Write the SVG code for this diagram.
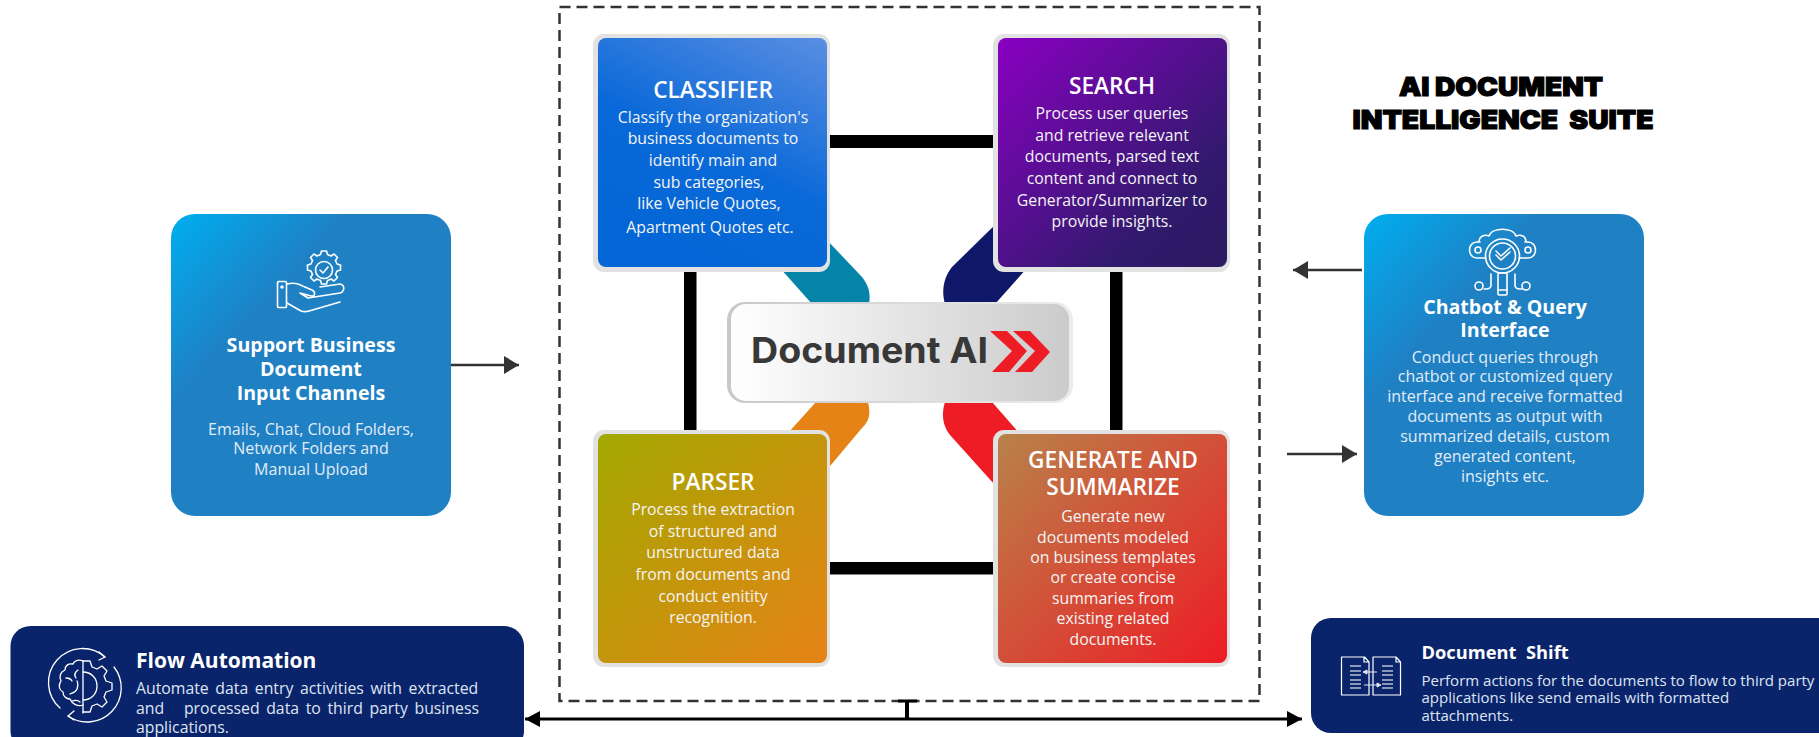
<svg xmlns="http://www.w3.org/2000/svg" width="1819" height="737" viewBox="0 0 1819 737">
<style>
text{font-family:"Open Sans","Noto Sans",sans-serif;fill:#fff}
.c{text-anchor:middle}
.h{font-weight:600;font-size:22.700px}
.b{font-size:15.800px;fill:#f4f4f4}
.sh{font-weight:700;font-size:19.600px}
.sb{font-size:16px;fill:#e3ecf6}
.fb{font-size:15.800px;fill:#dfe4f2;word-spacing:2.500px}
.ds{font-size:15px;fill:#dfe4f2}
.t{font-family:Inter,"Liberation Sans",sans-serif;font-weight:900;font-size:26px;fill:#000;stroke:#000;stroke-width:1.100;text-anchor:middle}
.ic{fill:none;stroke:#fff;stroke-width:1.600;stroke-linecap:round;stroke-linejoin:round}
.card{fill:#e2e2e2}
.bar{fill:#000}
.ar{fill:none;stroke:#333;stroke-width:2.500}
.bl{fill:none;stroke:#000;stroke-width:3}
</style>
<defs>
<linearGradient id="gc" x1="1" y1="0" x2=".5" y2="1"><stop offset="0" stop-color="#5a8ee2"/><stop offset=".6" stop-color="#0a69d8"/><stop offset="1" stop-color="#0466d6"/></linearGradient>
<linearGradient id="gs" x1="0" y1="0" x2="1" y2="1"><stop offset="0" stop-color="#8a00c2"/><stop offset=".75" stop-color="#301a6c"/><stop offset="1" stop-color="#2c1a62"/></linearGradient>
<linearGradient id="gp" x1="0" y1="0" x2="1" y2="1"><stop offset="0" stop-color="#a2a800"/><stop offset="1" stop-color="#e68316"/></linearGradient>
<linearGradient id="gg" x1="0" y1="0" x2="1" y2="1"><stop offset="0" stop-color="#b8824a"/><stop offset="1" stop-color="#ee1c25"/></linearGradient>
<linearGradient id="gb" x1="0" y1="0" x2="1" y2="1"><stop offset="0" stop-color="#00aeef"/><stop offset=".32" stop-color="#1f80c4"/><stop offset="1" stop-color="#1f80c4"/></linearGradient>
<linearGradient id="gm" x1="0" y1="0" x2="1" y2="0"><stop offset="0" stop-color="#fff"/><stop offset="1" stop-color="#cbcbcb"/></linearGradient>
<linearGradient id="gf" x1="0" y1="0" x2="1" y2="0"><stop offset="0" stop-color="#c8c8c8"/><stop offset="1" stop-color="#ececec"/></linearGradient>
<marker id="ah" markerUnits="userSpaceOnUse" markerWidth="16" markerHeight="20" refX="15" refY="9" orient="auto"><path d="M0 0L15 9L0 18Z" fill="#333"/></marker>
<marker id="ak" markerUnits="userSpaceOnUse" markerWidth="16" markerHeight="20" refX="15" refY="8" orient="auto-start-reverse"><path d="M0 0L15 8L0 16Z" fill="#000"/></marker>
</defs>

<g id="connectors">
<rect x="559.500" y="7" width="700" height="694" fill="none" stroke="#333" stroke-width="2.500" stroke-dasharray="11 6"/>
<rect class="bar" x="828" y="135" width="167" height="13"/>
<rect class="bar" x="828" y="562" width="167" height="12.500"/>
<rect class="bar" x="684" y="270" width="12.500" height="162"/>
<rect class="bar" x="1110" y="270" width="12.500" height="162"/>
<path d="M780 268L812 304H869C871 292 868 285 862 277L825 238Z" fill="#0484a8"/>
<path d="M1027 268L995 304H945C941 290 944 277 952 267L1000 220Z" fill="#0f1769"/>
<path d="M788 433L816 402H868C871 415 869 421 862 428L820 478Z" fill="#e68316"/>
<path d="M1019 433L992 402H945C941 415 943 426 950 435L1003 494Z" fill="#ee1c25"/>
<path class="ar" d="M451 365H519" marker-end="url(#ah)"/>
<path class="ar" d="M1362 270H1293" marker-end="url(#ah)"/>
<path class="ar" d="M1287 454H1357" marker-end="url(#ah)"/>
<path class="bl" d="M525 719H1302" marker-start="url(#ak)" marker-end="url(#ak)"/>
<path d="M907 701V719" fill="none" stroke="#000" stroke-width="4"/>
<path d="M898 701H917" fill="none" stroke="#000" stroke-width="3"/>
</g>

<g id="center">
<rect x="727" y="302" width="346" height="101" rx="18" fill="url(#gf)"/>
<rect x="731" y="304" width="338" height="97" rx="15" fill="url(#gm)"/>
<text x="751" y="363" font-size="36" font-weight="700" style="font-family:Inter,sans-serif;fill:#383838" textLength="237" lengthAdjust="spacingAndGlyphs">Document AI</text>
<path d="M990 331H1007L1027 351L1009 372H992L1012 351Z M1013 331H1030L1050 352L1032 372H1015L1035 351Z" fill="#ee1c25"/>
</g>

<g id="classifier">
<rect class="card" x="593" y="34" width="237" height="238" rx="11"/>
<rect x="598" y="38" width="229" height="229" rx="8" fill="url(#gc)"/>
<text class="c h" x="713" y="98">CLASSIFIER</text>
<text class="c b" x="713" y="123">Classify the organization's</text>
<text class="c b" x="713" y="144">business documents to</text>
<text class="c b" x="713" y="166">identify main and</text>
<text class="c b" x="709" y="188">sub categories,</text>
<text class="c b" x="709" y="209">like Vehicle Quotes,</text>
<text class="c b" x="710" y="233">Apartment Quotes etc.</text>
</g>

<g id="search">
<rect class="card" x="993" y="34" width="237" height="238" rx="11"/>
<rect x="998" y="38" width="229" height="229" rx="8" fill="url(#gs)"/>
<text class="c h" x="1112" y="94">SEARCH</text>
<text class="c b" x="1112" y="119">Process user queries</text>
<text class="c b" x="1112" y="141">and retrieve relevant</text>
<text class="c b" x="1112" y="162">documents, parsed text</text>
<text class="c b" x="1112" y="184">content and connect to</text>
<text class="c b" x="1112" y="206">Generator/Summarizer to</text>
<text class="c b" x="1112" y="227">provide insights.</text>
</g>

<g id="parser">
<rect class="card" x="593" y="430" width="237" height="237" rx="11"/>
<rect x="598" y="434" width="229" height="229" rx="8" fill="url(#gp)"/>
<text class="c h" x="713" y="490">PARSER</text>
<text class="c b" x="713" y="515">Process the extraction</text>
<text class="c b" x="713" y="537">of structured and</text>
<text class="c b" x="713" y="558">unstructured data</text>
<text class="c b" x="713" y="580">from documents and</text>
<text class="c b" x="713" y="602">conduct enitity</text>
<text class="c b" x="713" y="623">recognition.</text>
</g>

<g id="generate">
<rect class="card" x="993" y="430" width="237" height="237" rx="11"/>
<rect x="998" y="434" width="229" height="229" rx="8" fill="url(#gg)"/>
<text class="c h" x="1113" y="468">GENERATE AND</text>
<text class="c h" x="1113" y="495">SUMMARIZE</text>
<text class="c b" x="1113" y="522">Generate new</text>
<text class="c b" x="1113" y="543">documents modeled</text>
<text class="c b" x="1113" y="563">on business templates</text>
<text class="c b" x="1113" y="583">or create concise</text>
<text class="c b" x="1113" y="604">summaries from</text>
<text class="c b" x="1113" y="624">existing related</text>
<text class="c b" x="1113" y="645">documents.</text>
</g>

<g id="input-channels">
<rect x="171" y="214" width="280" height="302" rx="24" fill="url(#gb)"/>
<g class="ic">
<path d="M321.500 251h5l1 3.500 3.500 1.500 3-2 3.500 3.500-2 3 1.500 3.500 3.500 1v5l-3.500 1-1.500 3.500 2 3-3.500 3.500-3-2-3.500 1.500-1 3.500h-5l-1-3.500-3.500-1.500-3 2-3.500-3.500 2-3-1.500-3.500-3.500-1v-5l3.500-1 1.500-3.500-2-3 3.500-3.500 3 2 3.500-1.500Z"/>
<circle cx="324" cy="270" r="8.500"/>
<path d="M320 270l3 3 5-6"/>
<rect x="277.500" y="281.500" width="9" height="26" rx="1"/>
<circle cx="282" cy="287" r="1"/>
<path d="M287 284c4-1 8-1 11 0l14 6c4 2 3 7-1 6l-11-3M300 293l8 5 32-5c5-2 5-8 0-9l-20 3M287 303l14 8c3 1 5 1 8 0l31-9"/>
</g>
<text class="c sh" x="311" y="352">Support Business</text>
<text class="c sh" x="311" y="376">Document</text>
<text class="c sh" x="311" y="400">Input Channels</text>
<text class="c sb" x="311" y="435">Emails, Chat, Cloud Folders,</text>
<text class="c sb" x="311" y="454">Network Folders and</text>
<text class="c sb" x="311" y="475">Manual Upload</text>
</g>

<g id="title">
<text class="t" x="1501" y="96" textLength="204" lengthAdjust="spacingAndGlyphs">AI DOCUMENT</text>
<text class="t" x="1503" y="129" xml:space="preserve" textLength="301" lengthAdjust="spacingAndGlyphs">INTELLIGENCE  SUITE</text>
</g>

<g id="chatbot">
<rect x="1364" y="214" width="280" height="302" rx="24" fill="url(#gb)"/>
<g class="ic">
<circle cx="1502.500" cy="256" r="17"/><circle cx="1502.500" cy="256" r="13"/>
<path d="M1496 255l5 5 9-8M1496 251l5 5 9-8"/>
<path d="M1479 242c0-6 6-8 10-6 3-9 24-9 27 0 5-2 10 0 10 6M1486 258h-9c-10 0-10-16 0-16h3M1519 258h9c10 0 10-16 0-16h-3"/>
<circle cx="1478" cy="250" r="3"/><circle cx="1528" cy="250" r="3"/>
<rect x="1498" y="273" width="9" height="22" rx="1"/><path d="M1498 290h9"/>
<path d="M1491 274v11c0 3-2 4-5 4h-2M1515 274v11c0 3 2 4 5 4h2"/>
<circle cx="1479" cy="286" r="4"/><circle cx="1526" cy="286" r="4"/>
</g>
<text class="c sh" x="1505" y="314">Chatbot &amp; Query</text>
<text class="c sh" x="1505" y="337">Interface</text>
<text class="c sb" x="1505" y="363">Conduct queries through</text>
<text class="c sb" x="1505" y="382">chatbot or customized query</text>
<text class="c sb" x="1505" y="402">interface and receive formatted</text>
<text class="c sb" x="1505" y="422">documents as output with</text>
<text class="c sb" x="1505" y="442">summarized details, custom</text>
<text class="c sb" x="1505" y="462">generated content,</text>
<text class="c sb" x="1505" y="482">insights etc.</text>
</g>

<g id="flow-automation">
<rect x="10.500" y="626" width="513.500" height="125" rx="20" fill="#0a246b"/>
<g class="ic" style="stroke-width:1.300">
<path d="M105 657a34 34 0 0 0-45 51M114 667a34 34 0 0 1-46 49"/>
<path d="M99 652l6 5-6 3M74 711l-6 5 6 4"/>
<path d="M83 661v52"/>
<path d="M83 661c-5-2-9 0-10 3-5-1-8 2-8 6-5 2-6 7-4 11-3 4-2 9 2 11 0 4 3 7 7 7 2 5 8 8 13 6"/>
<path d="M66 678c3 0 5 1 6 3M78 670c-3 2-4 5-2 8M70 694c3-1 6-2 7-5 1-3 1-6 0-8M72 701c3-1 6-1 8 1"/>
<path d="M83 672c8 0 14 6 14 14s-6 14-14 14"/>
<path d="M83 661h7l2 6 5 2 5-3 5 5-3 5 2 5 6 2v7l-6 2-2 5 3 5-5 5-5-3-5 2-2 6h-7"/>
</g>
<text x="136" y="668" font-size="21" font-weight="700">Flow Automation</text>
<text class="fb" x="136" y="694" xml:space="preserve">Automate data entry activities with extracted</text>
<text class="fb" x="136" y="714" xml:space="preserve">and   processed data to third party business</text>
<text class="fb" x="136" y="733">applications.</text>
</g>

<g id="document-shift">
<rect x="1311" y="618" width="530" height="115" rx="20" fill="#0a246b"/>
<g class="ic" style="stroke-width:1.200">
<path d="M1341.500 657h23l4.500 5v33h-27.500ZM1364 657v5h5M1373 657h23l4.500 5v33H1373ZM1396 657v5h4"/>
</g>
<path d="M1350 666h11M1350 671h11M1350 675h11M1350 680h11M1350 684h11M1350 688h11M1382 666h11M1382 671h11M1382 675h11M1382 680h11M1382 684h11M1382 688h11" stroke="#b6bfd8" stroke-width="1.500" fill="none"/>
<path d="M1377 672h-14M1363 672l4-2v4ZM1364 685h14M1381 685l-4-2v4Z" stroke="#dfe4f2" stroke-width="1" fill="#dfe4f2"/>
<text x="1421.500" y="659" font-size="18.300" font-weight="700" xml:space="preserve">Document  Shift</text>
<text class="ds" x="1421.500" y="686">Perform actions for the documents to flow to third party</text>
<text class="ds" x="1421.500" y="703">applications like send emails with formatted</text>
<text class="ds" x="1421.500" y="721">attachments.</text>
</g>
</svg>
